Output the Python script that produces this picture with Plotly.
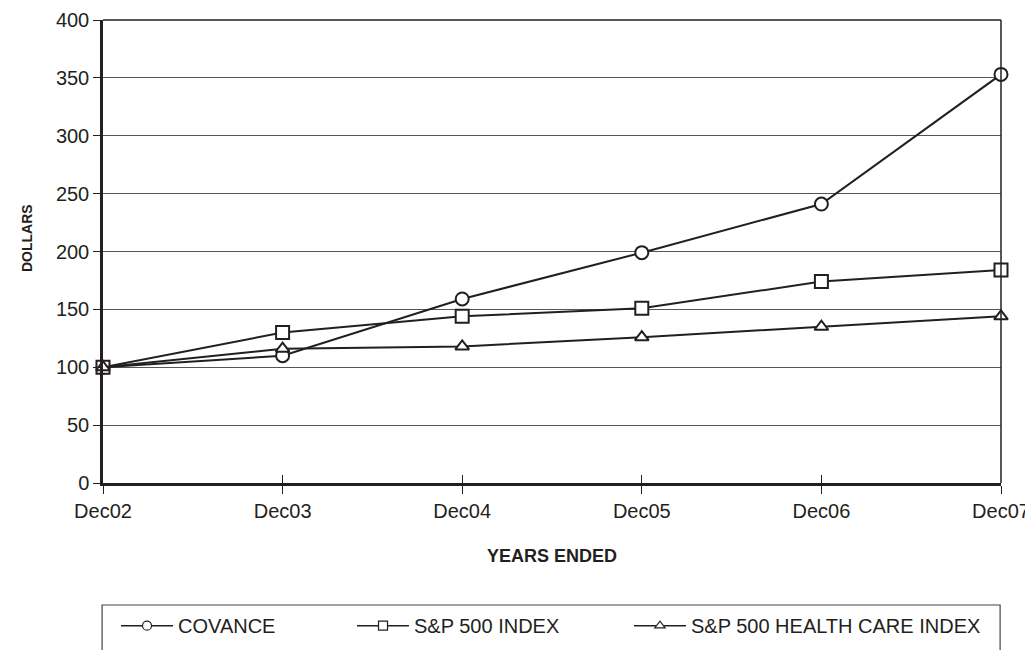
import plotly.graph_objects as go

years = ["Dec02", "Dec03", "Dec04", "Dec05", "Dec06", "Dec07"]
covance = [100, 110, 159, 199, 241, 353]
sp500 = [100, 130, 144, 151, 174, 184]
sp500_hc = [100, 116, 118, 126, 135, 144]
y_ticks = [0, 50, 100, 150, 200, 250, 300, 350, 400]

x_idx = list(range(len(years)))
ink = "#231f20"
font_family = "Liberation Sans, Arial, sans-serif"

fig = go.Figure()
series = [
    ("COVANCE", covance, "circle", 13, "legend"),
    ("S&P 500 INDEX", sp500, "square", 13, "legend2"),
    ("S&P 500 HEALTH CARE INDEX", sp500_hc, "triangle-up", 12, "legend3"),
]
for name, vals, sym, sz, lg in series:
    fig.add_trace(go.Scatter(
        x=x_idx, y=vals, name=name, mode="lines+markers",
        line=dict(color=ink, width=2),
        marker=dict(symbol=sym, size=sz, color="white", line=dict(color=ink, width=2)),
        cliponaxis=False, showlegend=False,
    ))
    # legend-only entry with smaller marker
    fig.add_trace(go.Scatter(
        x=[None], y=[None], name=name, mode="lines+markers",
        line=dict(color=ink, width=1.5),
        marker=dict(symbol=sym, size=9, color="white", line=dict(color=ink, width=1.2)),
        legend=lg, showlegend=True, hoverinfo="skip",
    ))

legend_common = dict(
    orientation="h", xanchor="left", y=-0.266, yanchor="top",
    font=dict(size=20, color=ink), itemwidth=52,
    bgcolor="rgba(0,0,0,0)",
)

fig.update_layout(
    template="none",
    width=1025, height=642,
    margin=dict(l=95, r=32, t=12, b=167, autoexpand=False),
    paper_bgcolor="white", plot_bgcolor="white",
    font=dict(family=font_family, size=20, color=ink),
    showlegend=True,
    legend=dict(x=0.0145, **legend_common),
    legend2=dict(x=0.2773, **legend_common),
    legend3=dict(x=0.5857, **legend_common),
    xaxis=dict(
        range=[0, 5], tickmode="array", tickvals=x_idx, ticktext=years,
        showgrid=False, zeroline=False, automargin=False,
        showline=True, linecolor=ink, linewidth=2.5,
        ticks="outside", ticklen=8, tickcolor=ink, tickwidth=1,
        tickfont=dict(size=20, color=ink),
    ),
    xaxis2=dict(
        range=[0, 5], tickmode="array", tickvals=x_idx, overlaying="x",
        side="bottom", anchor="y", showticklabels=False, showgrid=False,
        zeroline=False, ticks="inside", ticklen=8, tickcolor=ink, tickwidth=1,
        automargin=False,
    ),
    yaxis=dict(
        range=[0, 400], tickmode="array", tickvals=y_ticks,
        showgrid=True, gridcolor="#555555", gridwidth=1,
        zeroline=False, automargin=False,
        showline=True, linecolor=ink, linewidth=2.5,
        ticks="outside", ticklen=7, tickcolor=ink, tickwidth=1,
        tickfont=dict(size=20, color=ink),
    ),
    shapes=[
        dict(type="line", xref="paper", yref="paper", x0=1, x1=1, y0=0, y1=1,
             line=dict(color=ink, width=1.5)),
        dict(type="line", xref="paper", yref="paper", x0=0, x1=1, y0=1, y1=1,
             line=dict(color=ink, width=1.5)),
        dict(type="rect", xref="paper", yref="paper", x0=-0.001, x1=0.999,
             y0=-0.40, y1=-0.2635, line=dict(color="#444444", width=1.2),
             fillcolor="rgba(0,0,0,0)", layer="below"),
    ],
    annotations=[
        dict(text="<b>DOLLARS</b>", xref="paper", yref="paper",
             x=(27 - 103) / 898, y=(483 - 238) / 463, textangle=-90,
             showarrow=False, font=dict(size=14, color=ink),
             xanchor="center", yanchor="middle"),
        dict(text="<b>YEARS ENDED</b>", xref="paper", yref="paper",
             x=(552 - 103) / 898, y=(483 - 556) / 463,
             showarrow=False, font=dict(size=18, color=ink),
             xanchor="center", yanchor="middle"),
    ],
)
# dummy trace to activate xaxis2 for crossing ticks
fig.add_trace(go.Scatter(x=[None], y=[None], xaxis="x2", showlegend=False, hoverinfo="skip"))

fig.write_html("out.html")
